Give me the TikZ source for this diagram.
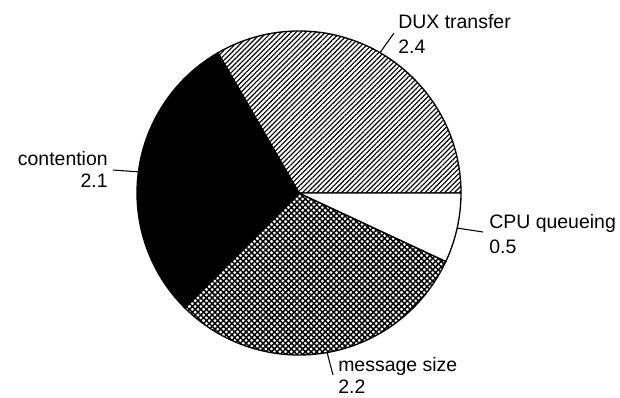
\documentclass[tikz,border=0pt]{standalone}
\usepackage{fontspec}
\setmainfont{Liberation Sans}
\usetikzlibrary{patterns.meta}

\tikzset{
  slice/.style={draw=black,line width=1pt},
  lbl/.style={inner sep=0pt,font=\fontsize{14.6}{17}\selectfont},
  leader/.style={draw=black,line width=0.8pt}
}
\def\R{121.5pt}

\begin{document}
\begin{tikzpicture}[x=0.75pt,y=0.75pt]
\useasboundingbox (-299,-204) rectangle (321,193);
% slices: 2.4, 2.1, 2.2, 0.5 of 7.2
\draw[slice,pattern={Lines[angle=45,distance=2.6pt,line width=0.85pt]}] (0,0) -- (0:\R) arc[start angle=0,end angle=120,radius=\R] -- cycle;
\draw[slice,fill=black] (0,0) -- (120:\R) arc[start angle=120,end angle=225,radius=\R] -- cycle;
\draw[slice,pattern={Hatch[angle=45,distance=3pt,line width=1.1pt]}] (0,0) -- (225:\R) arc[start angle=225,end angle=335,radius=\R] -- cycle;
\draw[slice,fill=white] (0,0) -- (335:\R) arc[start angle=335,end angle=360,radius=\R] -- cycle;
% points on the rim
\coordinate (duxrim) at (60:\R);
\coordinate (conrim) at (172.5:\R);
\coordinate (msgrim) at (280:\R);
\coordinate (cpurim) at (347.5:\R);
% labels
\node[lbl,anchor=base west] (dux) at (99,165) {DUX transfer};
\node[lbl,anchor=base west] (duxval) at (99,140) {2.4};
\node[lbl,anchor=base east] (con) at (-191,28) {contention};
\node[lbl,anchor=base east] (conval) at (-191,6) {2.1};
\node[lbl,anchor=base west] (msg) at (39,-178) {message size};
\node[lbl,anchor=base west] (msgval) at (39,-200) {2.2};
\node[lbl,anchor=base west] (cpu) at (190,-35) {CPU queueing};
\node[lbl,anchor=base west] (cpuval) at (190,-60) {0.5};
% leader ends
\coordinate (duxend) at (95,160);
\coordinate (conend) at (-186,23);
\coordinate (msgend) at (34,-182);
\coordinate (cpuend) at (184,-39);
\draw[leader] (duxrim) -- (duxend);
\draw[leader] (conrim) -- (conend);
\draw[leader] (msgrim) -- (msgend);
\draw[leader] (cpurim) -- (cpuend);
\end{tikzpicture}
\end{document}
